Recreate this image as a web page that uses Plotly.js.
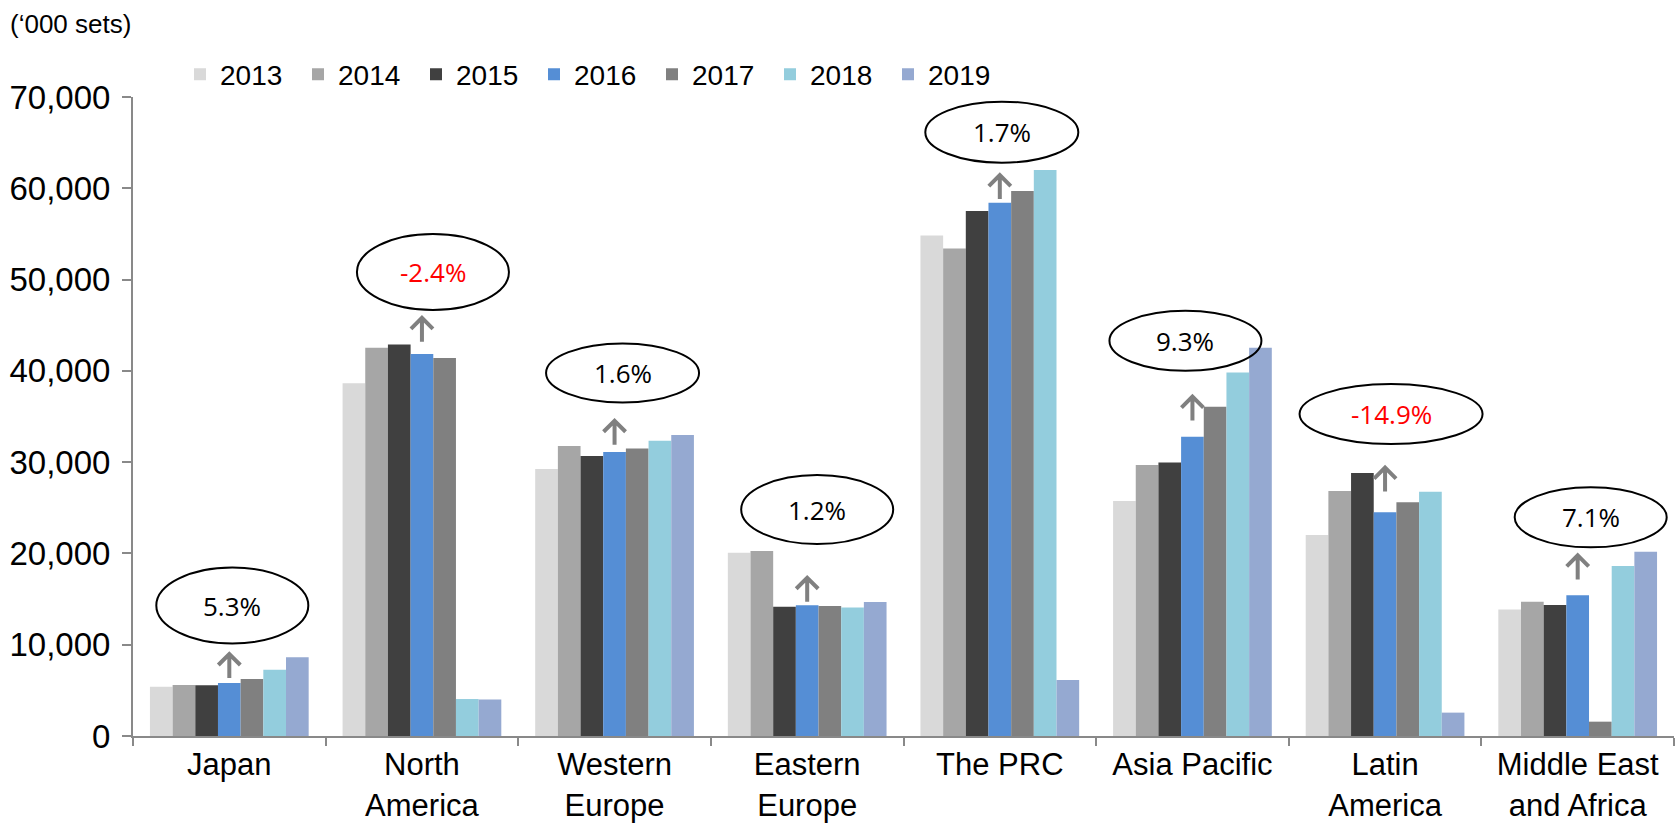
<!DOCTYPE html>
<html>
<head>
<meta charset="utf-8">
<script src="https://cdn.plot.ly/plotly-3.0.1.min.js"></script>
<style>
  html, body { margin: 0; padding: 0; background: #fff; }
  #myPlot { width: 1678px; height: 828px; }
</style>
</head>
<body>
<div id="myPlot"></div>
<script>
// regions on the x axis
var regions = ["Japan", "North<br>America", "Western<br>Europe", "Eastern<br>Europe",
               "The PRC", "Asia Pacific", "Latin<br>America", "Middle East<br>and Africa"];

var years = ["2013", "2014", "2015", "2016", "2017", "2018", "2019"];

// shipments, '000 sets
var y2013 = [5400, 38630, 29240, 20080, 54840, 25740, 22010, 13870];
var y2014 = [5580, 42530, 31760, 20260, 53410, 29680, 26830, 14710];
var y2015 = [5550, 42900, 30660, 14170, 57500, 29970, 28800, 14350];
var y2016 = [5800, 41840, 31100, 14310, 58410, 32790, 24500, 15410];
var y2017 = [6240, 41400, 31500, 14240, 59690, 36070, 25600, 1570];
var y2018 = [7260, 4050, 32340, 14090, 62000, 39830, 26760, 18620];
var y2019 = [8620, 4000, 32970, 14680, 6130, 42530, 2560, 20190];

// growth rate shown in the bubbles
var growth = ["5.3%", "-2.4%", "1.6%", "1.2%", "1.7%", "9.3%", "-14.9%", "7.1%"];

var colors = ["#d9d9d9", "#a6a6a6", "#404040", "#558ed5", "#808080", "#93cddd", "#95a9d1"];

// bubble / arrow placement (layout only)
var bubbleY = [14290, 50820, 39760, 24810, 66150, 43290, 35270, 23950];
var bubbleDx = [3, 11, 8, 10, 2, -7, 6, 13];
var bubbleW = [152, 152, 153, 152, 153, 152, 183, 152];
var bubbleH = [76, 76, 59, 69, 61, 60, 60, 60];
var arrowY = [7780, 44600, 33330, 16130, 60240, 35980, 28200, 18580];

var series = [y2013, y2014, y2015, y2016, y2017, y2018, y2019];
var data = [];
for (var s = 0; s < series.length; s++) {
  data.push({
    type: "bar",
    name: years[s],
    x: regions,
    y: series[s],
    marker: {color: colors[s]},
    hoverinfo: "x+y+name"
  });
}

var shapes = [];
var annotations = [];
for (var i = 0; i < regions.length; i++) {
  var dx = bubbleDx[i], w = bubbleW[i] / 2, h = bubbleH[i] / 2;
  shapes.push({
    type: "circle", xref: "x", yref: "y",
    xsizemode: "pixel", ysizemode: "pixel",
    xanchor: i, yanchor: bubbleY[i],
    x0: dx - w, x1: dx + w, y0: -h, y1: h,
    line: {color: "#000", width: 2}, fillcolor: "rgba(0,0,0,0)"
  });
  shapes.push({
    type: "path", xref: "x", yref: "y",
    xsizemode: "pixel", ysizemode: "pixel",
    xanchor: i, yanchor: arrowY[i],
    path: "M0,-13L0,11M-11,0L0,11L11,0",
    line: {color: "#808080", width: 4}
  });
  annotations.push({
    x: i, y: bubbleY[i], xref: "x", yref: "y",
    xshift: dx, showarrow: false,
    text: growth[i],
    font: {family: "Open Sans", size: 26,
           color: growth[i].charAt(0) == "-" ? "#ff0000" : "#000"}
  });
}

annotations.push({
  xref: "paper", yref: "paper", x: -0.081, y: 1.115,
  xanchor: "left", yanchor: "middle", showarrow: false,
  text: "(\u2018000 sets)",
  font: {family: "Liberation Sans", size: 26, color: "#000"}
});

var layout = {
  width: 1678, height: 828,
  margin: {l: 133, r: 4, t: 97, b: 92},
  paper_bgcolor: "#fff", plot_bgcolor: "#fff",
  font: {family: "Liberation Sans", color: "#000"},
  barmode: "group", bargap: 0.176, bargroupgap: 0,
  showlegend: true,
  legend: {
    orientation: "h", x: 0.0305, y: 1.035, xanchor: "left", yanchor: "middle",
    font: {family: "Liberation Sans", size: 28, color: "#000"},
    entrywidth: 73, traceorder: "normal"
  },
  xaxis: {
    type: "category",
    showline: true, linecolor: "#898989", linewidth: 2,
    ticks: "outside", tickson: "boundaries", ticklen: 8, tickwidth: 2, tickcolor: "#898989",
    tickfont: {size: 31, color: "#000"},
    showgrid: false, zeroline: false, fixedrange: true
  },
  yaxis: {
    range: [0, 70000], dtick: 10000, tickformat: ",d",
    showline: true, linecolor: "#898989", linewidth: 2,
    ticks: "outside", ticklen: 9, tickwidth: 2, tickcolor: "#898989",
    ticklabelstandoff: 5,
    tickfont: {size: 33, color: "#000"},
    showgrid: false, zeroline: false, fixedrange: true
  },
  shapes: shapes,
  annotations: annotations
};

Plotly.newPlot("myPlot", data, layout, {displayModeBar: false, responsive: false});
</script>
</body>
</html>
